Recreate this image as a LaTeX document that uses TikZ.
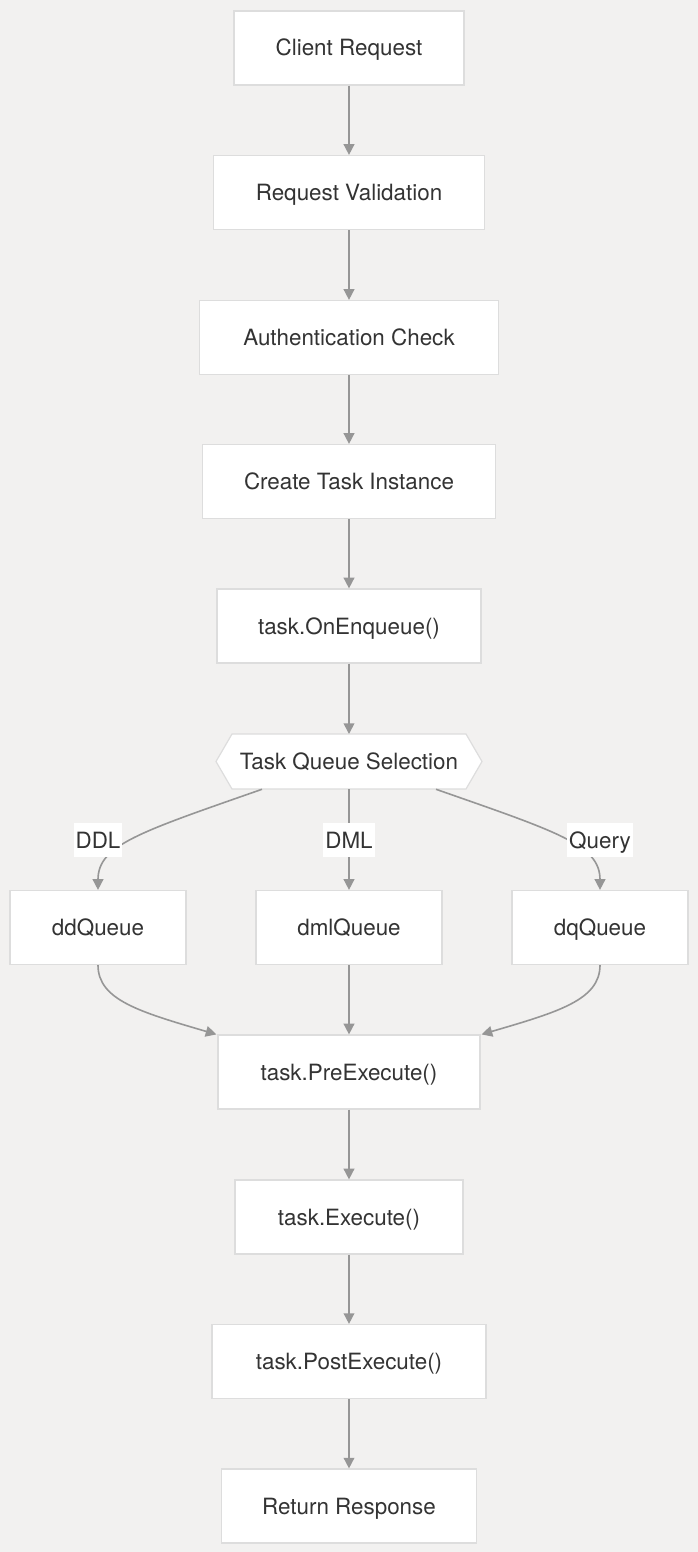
\documentclass[tikz,border=0pt]{standalone}
\usepackage{fontspec}
\setmainfont{TeX Gyre Heros}
\usetikzlibrary{arrows.meta,calc}
\definecolor{bg}{RGB}{242,241,240}
\definecolor{boxline}{RGB}{221,221,221}
\definecolor{edge}{RGB}{150,150,150}
\definecolor{txt}{RGB}{51,51,51}
\begin{document}
\begin{tikzpicture}[x=0.75pt,y=-0.75pt,
  box/.style={draw=boxline,fill=white,line width=0.9pt,minimum height=55.5pt,inner sep=0pt,text height=12pt,text depth=0pt,text=txt,font=\fontsize{16.8}{20}\selectfont},
  lbl/.style={fill=white,text=txt,inner xsep=1.5pt,inner ysep=0pt,minimum height=26pt,text height=12pt,text depth=0pt,font=\fontsize{16.8}{20}\selectfont},
  conn/.style={draw=edge,line width=1.2pt,-{Triangle[length=8pt,width=8pt]}}]
\fill[bg] (0,0) rectangle (698,1552);
\useasboundingbox (0,0) rectangle (698,1552);
\node[box,minimum width=172.5pt] (client) at (349,48) {Client Request};
\node[box,minimum width=203.25pt] (valid) at (349,192.5) {Request Validation};
\node[box,minimum width=224.25pt] (auth) at (349,337.5) {Authentication Check};
\node[box,minimum width=219.75pt] (create) at (349,481.5) {Create Task Instance};
\node[box,minimum width=198pt] (enq) at (349,626) {task.OnEnqueue()};
\fill[white,draw=boxline,line width=0.9pt] (216,761.5) -- (232,734) -- (466,734) -- (482,761.5) -- (466,789) -- (232,789) -- cycle;
\node[draw=none,minimum width=199.5pt,minimum height=41.25pt,inner sep=0pt,text height=12pt,text depth=0pt,text=txt,font=\fontsize{16.8}{20}\selectfont] (hex) at (349,761.5) {Task Queue Selection};
\node[box,minimum width=132pt] (dd) at (98,927.5) {ddQueue};
\node[box,minimum width=139.5pt] (dml) at (349,927.5) {dmlQueue};
\node[box,minimum width=132pt] (dq) at (600,927.5) {dqQueue};
\node[box,minimum width=196.5pt] (pre) at (349,1072) {task.PreExecute()};
\node[box,minimum width=171pt] (exec) at (349,1217) {task.Execute()};
\node[box,minimum width=205.5pt] (post) at (349,1361.5) {task.PostExecute()};
\node[box,minimum width=191.25pt] (ret) at (349,1506) {Return Response};
\draw[conn] (client) -- (valid);
\draw[conn] (valid) -- (auth);
\draw[conn] (auth) -- (create);
\draw[conn] (create) -- (enq);
\draw[conn] (enq.south) -- (349,734);
\draw[conn] ($(hex.south)+(-87,0)$) .. controls (140,832) and (98,845) .. (dd.north);
\draw[conn] (hex.south) -- (dml.north);
\draw[conn] ($(hex.south)+(87,0)$) .. controls (558,832) and (600,845) .. (dq.north);
\node[lbl] (lddl) at (98,840) {DDL};
\node[lbl] (ldml) at (349,840) {DML};
\node[lbl] (lq) at (600,840) {Query};
\draw[conn] (dd.south) .. controls (98,1000) and (140,1012) .. ($(pre.north west)+(-1,0)$);
\draw[conn] (dml.south) -- (pre.north);
\draw[conn] (dq.south) .. controls (600,1000) and (558,1012) .. ($(pre.north east)+(1,0)$);
\draw[conn] (pre) -- (exec);
\draw[conn] (exec) -- (post);
\draw[conn] (post) -- (ret);
\end{tikzpicture}
\end{document}
